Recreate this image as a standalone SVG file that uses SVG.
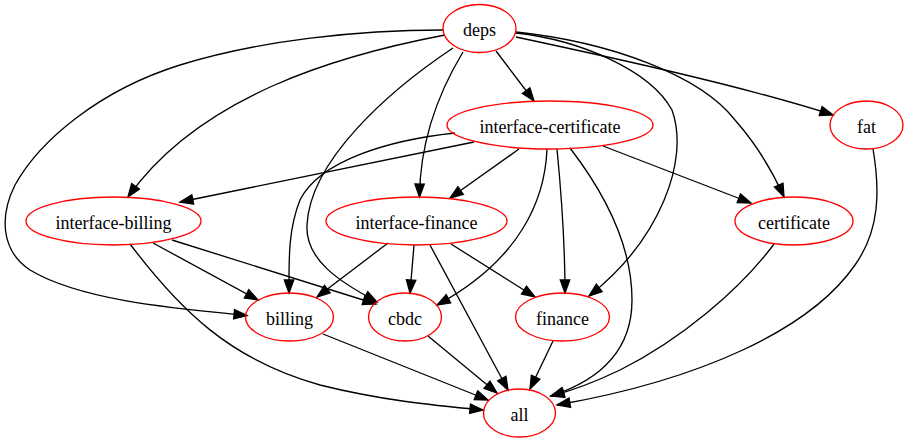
<svg xmlns="http://www.w3.org/2000/svg" width="908" height="443" viewBox="0 0 908 443">
<style>
.node ellipse{fill:none;stroke:#ff0000;stroke-width:1.33}
.node text{font-size:18px;text-anchor:middle;fill:#000}
.edge path{fill:none;stroke:#000;stroke-width:1.33;marker-end:url(#arr)}
</style>
<defs>
<marker id="arr" markerUnits="userSpaceOnUse" markerWidth="15" markerHeight="11" refX="13" refY="4.7" orient="auto" overflow="visible">
<path d="M0,0 L13,4.7 L0,9.4 Z" fill="#000" stroke="#000" stroke-width="1.33"/>
</marker>
</defs>
<rect width="908" height="443" fill="#fff"/>
<g id="edges" class="edge">
<path d="M496,51 L534,101"/>
<path d="M445,35 C340,55 200,95 128,197"/>
<path d="M463,52 C440,90 420,140 419.5,197"/>
<path d="M443,30 C360,30 260,40 180,65 C100,90 40,140 15,185 C0,215 0,250 30,270 C80,300 170,308 247,315.5"/>
<path d="M453,48 C390,90 310,160 307,225 C305,260 340,282 377,302"/>
<path d="M516,33 C580,40 650,70 672,110 C690,160 660,240 589,296"/>
<path d="M516,32 C610,42 700,75 735,120 C757,145 772,170 784,197"/>
<path d="M516,37 C600,55 740,85 833,115"/>
<path d="M474,142 L180,202"/>
<path d="M519,149 L450,198"/>
<path d="M455,133 C390,140 320,160 300,200 C288,230 289,260 289,293"/>
<path d="M547,149 C545,200 520,260 437,305"/>
<path d="M557,149 C561,190 565,240 565,293"/>
<path d="M570,148 C610,200 632,250 632,300 C632,350 600,380 551,396"/>
<path d="M603,146 L751,203"/>
<path d="M153,243 L258,300"/>
<path d="M172,240 L376,304"/>
<path d="M130,244 C180,310 230,360 320,385 C380,400 430,405 483,410"/>
<path d="M388,243 L317,297"/>
<path d="M414,245 L410,293"/>
<path d="M451,244 L535,297"/>
<path d="M430,245 L508,390"/>
<path d="M323,334 L488,400"/>
<path d="M428,336 L497,393"/>
<path d="M553,341 L530,389"/>
<path d="M774,244 C740,290 680,340 620,370 C595,382 575,390 551,396"/>
<path d="M873,149 C880,190 880,230 855,265 C810,330 700,380 557,405"/>
</g>
<g font-family="'Liberation Serif', 'DejaVu Serif', 'Times New Roman', serif">
<g id="deps" class="node"><ellipse cx="479.5" cy="28.5" rx="36.5" ry="24"/><text x="479.5" y="36">deps</text></g>
<g id="interface-certificate" class="node"><ellipse cx="550" cy="125" rx="103" ry="24"/><text x="550" y="132.5">interface-certificate</text></g>
<g id="fat" class="node"><ellipse cx="866.5" cy="125" rx="36.5" ry="24"/><text x="866.5" y="132.5">fat</text></g>
<g id="interface-billing" class="node"><ellipse cx="113.5" cy="221" rx="87.5" ry="24"/><text x="113.5" y="228.5">interface-billing</text></g>
<g id="interface-finance" class="node"><ellipse cx="416.5" cy="221" rx="90.5" ry="24"/><text x="416.5" y="228.5">interface-finance</text></g>
<g id="certificate" class="node"><ellipse cx="794" cy="221" rx="59" ry="24"/><text x="794" y="228.5">certificate</text></g>
<g id="billing" class="node"><ellipse cx="289.5" cy="317" rx="44" ry="24"/><text x="289.5" y="324.5">billing</text></g>
<g id="cbdc" class="node"><ellipse cx="405" cy="317" rx="36.5" ry="24"/><text x="405" y="324.5">cbdc</text></g>
<g id="finance" class="node"><ellipse cx="562.5" cy="317" rx="47" ry="24"/><text x="562.5" y="324.5">finance</text></g>
<g id="all" class="node"><ellipse cx="519.5" cy="413" rx="36" ry="24"/><text x="519.5" y="420.5">all</text></g>
</g>
</svg>
